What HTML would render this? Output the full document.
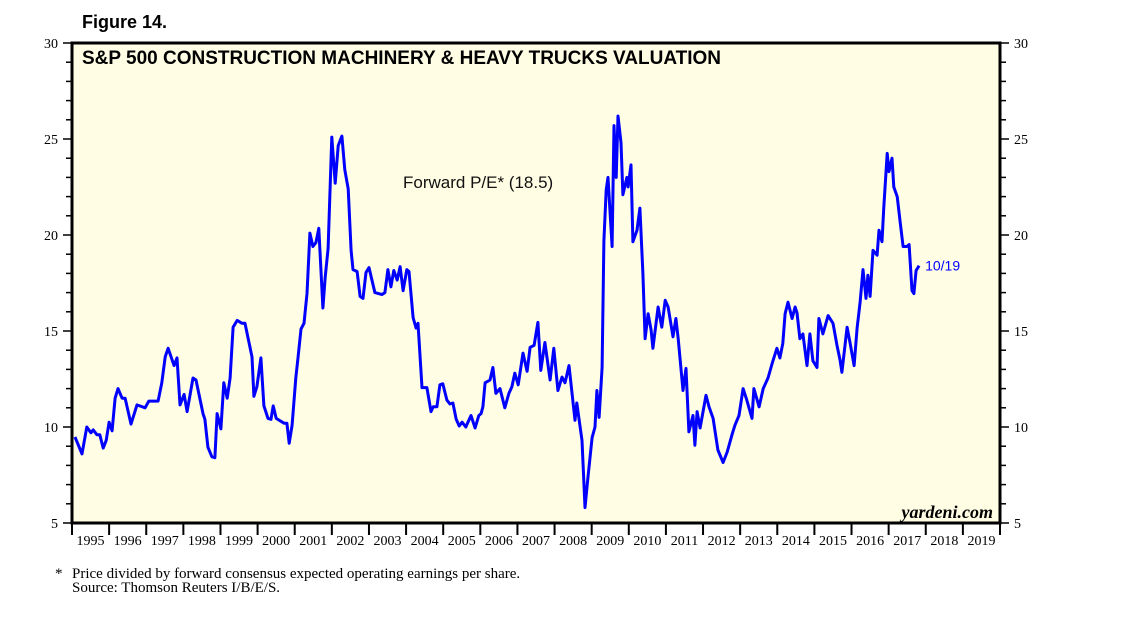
<!DOCTYPE html>
<html><head><meta charset="utf-8"><style>
body{margin:0;background:#fff;}
svg{display:block;}
</style></head><body>
<svg id="chart" width="1138" height="621" xmlns="http://www.w3.org/2000/svg">
<text x="82" y="28" font-family="Liberation Sans, sans-serif" font-weight="bold" font-size="18">Figure 14.</text>
<rect x="72" y="43" width="928" height="480" fill="#fffde4" stroke="#000" stroke-width="3"/>
<text x="82" y="64" font-family="Liberation Sans, sans-serif" font-weight="bold" font-size="19">S&amp;P 500 CONSTRUCTION MACHINERY &amp; HEAVY TRUCKS VALUATION</text>
<text x="403" y="188" font-family="Liberation Sans, sans-serif" font-size="17" fill="#111">Forward P/E* (18.5)</text>
<text x="993" y="518" text-anchor="end" font-family="Liberation Serif, serif" font-style="italic" font-weight="bold" font-size="18">yardeni.com</text>
<g id="axes"></g>
<g id="series"></g>
<text x="55" y="578" font-family="Liberation Serif, serif" font-size="15">*</text>
<text x="72" y="578" font-family="Liberation Serif, serif" font-size="15">Price divided by forward consensus expected operating earnings per share.</text>
<text x="72" y="592" font-family="Liberation Serif, serif" font-size="15">Source: Thomson Reuters I/B/E/S.</text>
</svg>
<script>
const years = [1995,1996,1997,1998,1999,2000,2001,2002,2003,2004,2005,2006,2007,2008,2009,2010,2011,2012,2013,2014,2015,2016,2017,2018,2019];
const yTicks = [5,10,15,20,25,30];
const dates = [1995.08,1995.27,1995.40,1995.51,1995.57,1995.67,1995.75,1995.84,1995.92,1996.00,1996.08,1996.16,1996.24,1996.35,1996.43,1996.59,1996.75,1996.97,1997.07,1997.32,1997.42,1997.51,1997.59,1997.75,1997.83,1997.91,1998.02,1998.10,1998.26,1998.34,1998.53,1998.58,1998.66,1998.77,1998.85,1998.91,1999.01,1999.09,1999.18,1999.26,1999.34,1999.45,1999.58,1999.66,1999.85,1999.90,1999.98,2000.09,2000.17,2000.28,2000.36,2000.42,2000.50,2000.71,2000.79,2000.85,2000.93,2001.03,2001.09,2001.17,2001.25,2001.33,2001.41,2001.49,2001.57,2001.65,2001.76,2001.82,2001.90,2002.00,2002.09,2002.17,2002.27,2002.35,2002.44,2002.52,2002.57,2002.68,2002.76,2002.84,2002.92,2003.00,2003.16,2003.35,2003.43,2003.51,2003.59,2003.67,2003.76,2003.84,2003.92,2004.02,2004.08,2004.19,2004.27,2004.32,2004.43,2004.56,2004.67,2004.73,2004.83,2004.91,2004.99,2005.10,2005.18,2005.26,2005.35,2005.43,2005.51,2005.61,2005.75,2005.86,2005.96,2006.02,2006.07,2006.13,2006.26,2006.34,2006.42,2006.53,2006.66,2006.77,2006.85,2006.93,2007.02,2007.15,2007.26,2007.34,2007.45,2007.55,2007.63,2007.74,2007.88,2007.98,2008.09,2008.20,2008.28,2008.39,2008.55,2008.60,2008.74,2008.82,2008.90,2009.01,2009.09,2009.14,2009.20,2009.28,2009.33,2009.39,2009.44,2009.55,2009.60,2009.66,2009.71,2009.79,2009.84,2009.95,2009.98,2010.06,2010.11,2010.22,2010.30,2010.38,2010.44,2010.52,2010.60,2010.65,2010.79,2010.89,2010.98,2011.06,2011.19,2011.27,2011.33,2011.46,2011.54,2011.62,2011.73,2011.78,2011.84,2011.92,2012.08,2012.16,2012.27,2012.40,2012.54,2012.65,2012.78,2012.86,2012.97,2013.08,2013.18,2013.32,2013.37,2013.51,2013.62,2013.75,2013.86,2013.99,2014.07,2014.15,2014.21,2014.29,2014.40,2014.48,2014.53,2014.61,2014.69,2014.80,2014.88,2014.96,2015.07,2015.12,2015.23,2015.37,2015.50,2015.61,2015.69,2015.74,2015.88,2015.96,2016.07,2016.15,2016.23,2016.31,2016.39,2016.44,2016.50,2016.58,2016.69,2016.74,2016.82,2016.87,2016.96,2017.01,2017.09,2017.14,2017.23,2017.31,2017.39,2017.49,2017.55,2017.63,2017.68,2017.74,2017.82];
const peValues = [9.48,8.6,10.0,9.7,9.85,9.6,9.6,8.9,9.3,10.25,9.8,11.5,12.0,11.5,11.5,10.15,11.15,11.0,11.35,11.35,12.3,13.65,14.1,13.2,13.6,11.15,11.7,10.8,12.55,12.45,10.7,10.4,8.95,8.45,8.4,10.7,9.9,12.3,11.5,12.55,15.2,15.55,15.4,15.4,13.65,11.6,12.1,13.6,11.1,10.45,10.4,11.1,10.45,10.2,10.2,9.15,10.1,12.55,13.65,15.1,15.4,16.95,20.1,19.4,19.6,20.35,16.2,17.8,19.3,25.1,22.7,24.65,25.15,23.4,22.4,19.2,18.2,18.1,16.8,16.7,18.05,18.3,17.0,16.9,17.0,18.2,17.3,18.15,17.65,18.35,17.1,18.2,18.1,15.7,15.15,15.4,12.05,12.05,10.8,11.05,11.05,12.2,12.25,11.4,11.2,11.25,10.4,10.05,10.25,10.0,10.6,9.95,10.6,10.7,11.05,12.3,12.45,13.1,11.75,12.0,11.0,11.75,12.1,12.8,12.2,13.85,12.9,14.15,14.25,15.45,12.95,14.4,12.45,14.1,11.9,12.6,12.3,13.2,10.35,11.25,9.3,5.8,7.4,9.45,10.0,11.9,10.5,13.1,19.7,22.35,23.0,19.4,25.7,23.0,26.2,24.8,22.1,23.0,22.5,23.65,19.65,20.25,21.4,18.0,14.6,15.9,15.05,14.1,16.25,15.2,16.6,16.25,14.7,15.65,14.6,11.9,13.05,9.75,10.6,9.05,10.8,9.95,11.65,11.05,10.45,8.8,8.15,8.7,9.6,10.1,10.6,12.0,11.4,10.45,12.0,11.05,12.0,12.55,13.3,14.1,13.6,14.35,15.9,16.5,15.65,16.25,15.95,14.6,14.85,13.2,14.85,13.45,13.1,15.65,14.85,15.8,15.4,14.25,13.5,12.85,15.2,14.4,13.2,15.15,16.5,18.2,16.7,17.9,16.8,19.2,18.95,20.25,19.65,21.45,24.25,23.3,24.0,22.5,22.0,20.7,19.4,19.4,19.5,17.1,16.95,18.15,18.4];
const lastLabel = "10/19";

const X0=72,X1=1000,Y0=43,Y1=523;
const xScale = t => X0 + (t-1995)/(2020-1995)*(X1-X0);
const yScale = v => Y1 - (v-5)/(30-5)*(Y1-Y0);
const NS="http://www.w3.org/2000/svg";
const axes=document.getElementById('axes');
function mk(tag,attrs){const e=document.createElementNS(NS,tag);for(const k in attrs)e.setAttribute(k,attrs[k]);return e;}

for(let v=5;v<=30;v++){
  const y=yScale(v);const major=yTicks.includes(v);
  const l=mk('line',{x1:major?63:66,x2:X0,y1:y,y2:y,stroke:'#000','stroke-width':1.5});
  
  
  axes.appendChild(l);
  const r=mk('line',{x1:X1,x2:major?1009:1006,y1:y,y2:y,stroke:'#000','stroke-width':1.5});
  
  
  axes.appendChild(r);
}
yTicks.forEach(v=>{
  const y=yScale(v);
  const t=mk('text',{x:58,y:y+5,'text-anchor':'end','font-family':'Liberation Serif, serif','font-size':14});
  t.textContent=v;
  
  
  axes.appendChild(t);
  const t2=mk('text',{x:1014,y:y+5,'font-family':'Liberation Serif, serif','font-size':14});
  t2.textContent=v;
  
  
  axes.appendChild(t2);
});
years.concat([2020]).forEach(yr=>{
  const x=xScale(yr);
  const l=mk('line',{x1:x,x2:x,y1:Y1,y2:Y1+12,stroke:'#000','stroke-width':2});
  
  
  axes.appendChild(l);
});
years.forEach(yr=>{
  const t=mk('text',{x:xScale(yr+0.5),y:545,'text-anchor':'middle','font-family':'Liberation Serif, serif','font-size':14});
  t.textContent=yr;
  
  
  axes.appendChild(t);
});
let d='';
dates.forEach((t,i)=>{d+=(i?'L':'M')+xScale(t).toFixed(1)+','+yScale(peValues[i]).toFixed(1);});
const p=mk('path',{d:d,fill:'none',stroke:'#0000ff','stroke-width':3,'stroke-linejoin':'round'});


document.getElementById('series').appendChild(p);
const n=dates.length-1;
const lab=mk('text',{x:xScale(dates[n])+6,y:yScale(peValues[n])+5,'font-family':'Liberation Sans, sans-serif','font-size':14,fill:'#0000ff'});
lab.textContent=lastLabel;


document.getElementById('series').appendChild(lab);
</script>
</body></html>
